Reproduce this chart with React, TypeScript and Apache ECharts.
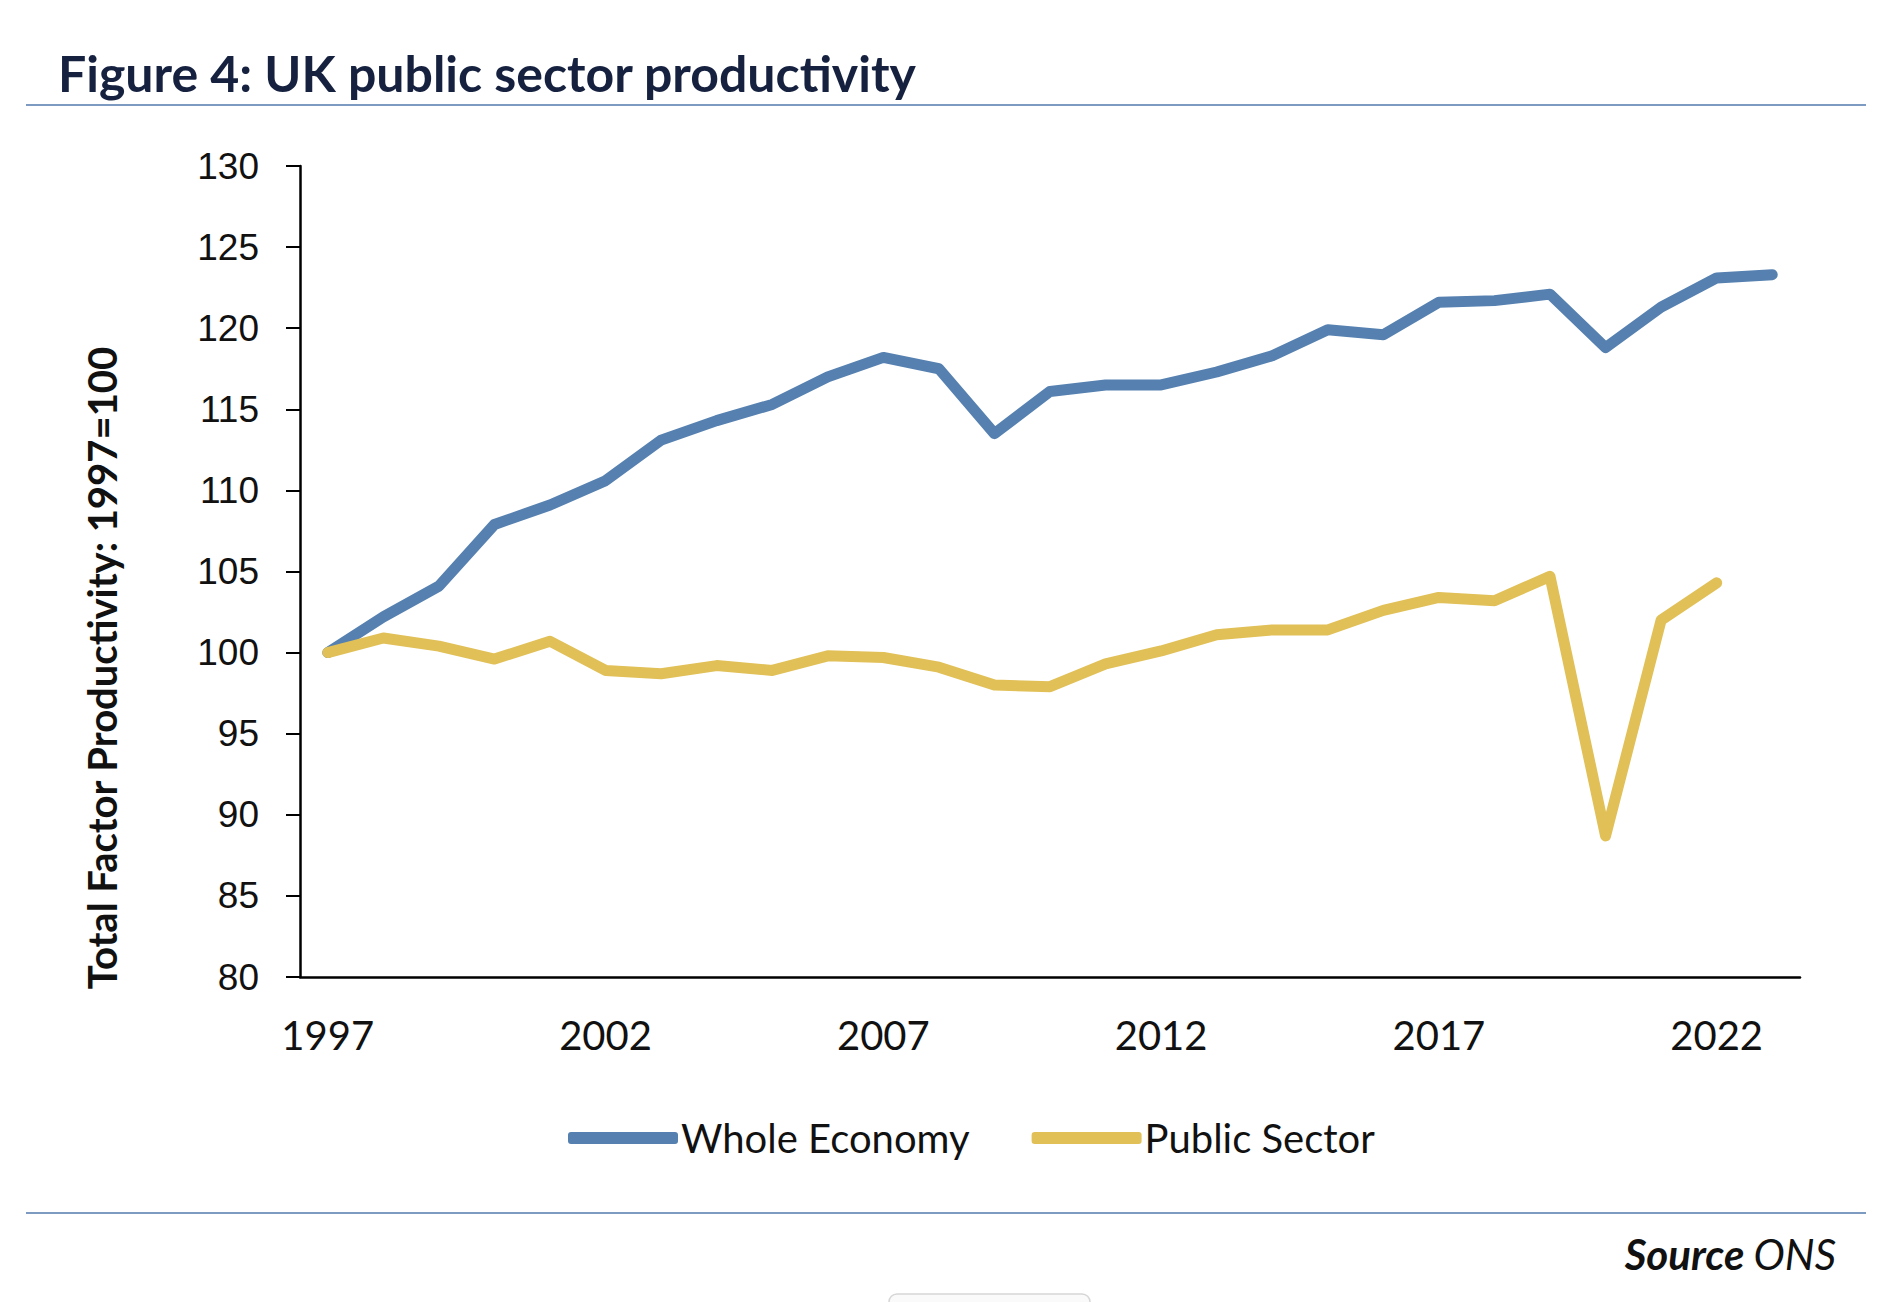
import { useEffect, useRef } from 'react';
import * as echarts from 'echarts';

const years = [
  '1997', '1998', '1999', '2000', '2001', '2002', '2003', '2004', '2005',
  '2006', '2007', '2008', '2009', '2010', '2011', '2012', '2013', '2014',
  '2015', '2016', '2017', '2018', '2019', '2020', '2021', '2022', '2023',
];

const wholeEconomy = [
  100, 102.2, 104.1, 107.9, 109.1, 110.6, 113.1, 114.3, 115.3,
  117.0, 118.2, 117.5, 113.5, 116.1, 116.5, 116.5, 117.3, 118.3,
  119.9, 119.6, 121.6, 121.7, 122.1, 118.8, 121.3, 123.1, 123.3,
];

const publicSector = [
  100, 100.9, 100.4, 99.6, 100.7, 98.9, 98.7, 99.2, 98.9,
  99.8, 99.7, 99.1, 98.0, 97.9, 99.3, 100.1, 101.1, 101.4,
  101.4, 102.6, 103.4, 103.2, 104.7, 88.7, 102.0, 104.3, null,
];

const seriesNames = ['Whole Economy', 'Public Sector'];

// Lato is the closest installed face to Calibri
const CAL = 'Lato, "Liberation Sans", sans-serif';

export default function App() {
  const chartRef = useRef<HTMLDivElement>(null);

  useEffect(() => {
    if (!chartRef.current) return;
    const chart = echarts.init(chartRef.current, undefined, { renderer: 'svg' });

    const option: echarts.EChartsOption = {
      animation: false,
      backgroundColor: '#ffffff',
      grid: { left: 300, top: 166, right: 88, bottom: 325 },
      legend: {
        data: seriesNames,
        left: 563,
        top: 1113,
        icon: 'roundRect',
        itemWidth: 110,
        itemHeight: 12,
        itemGap: 62,
        textStyle: { fontFamily: CAL, fontSize: 40, color: '#111111', padding: [0, 0, 0, -2] },
      },
      xAxis: {
        type: 'category',
        data: years,
        boundaryGap: true,
        axisLine: { lineStyle: { color: '#000000', width: 2.5 } },
        axisTick: { show: false },
        axisLabel: {
          interval: 4,
          margin: 38,
          fontFamily: CAL,
          fontSize: 40,
          color: '#111111',
        },
        splitLine: { show: false },
      },
      yAxis: {
        type: 'value',
        min: 80,
        max: 130,
        interval: 5,
        axisLine: { show: true, lineStyle: { color: '#000000', width: 2.5 } },
        axisTick: { show: true, length: 14, lineStyle: { color: '#000000', width: 2 } },
        axisLabel: {
          margin: 41,
          fontFamily: '"Liberation Sans", Arial, sans-serif',
          fontSize: 37,
          color: '#111111',
        },
        splitLine: { show: false },
      },
      graphic: [
        {
          type: 'text',
          left: 58,
          top: 48,
          style: {
            text: 'Figure 4: UK public sector productivity',
            font: `bold 50px ${CAL}`,
            fill: '#15213f',
          },
        },
        {
          type: 'line',
          shape: { x1: 26, y1: 105, x2: 1866, y2: 105 },
          style: { stroke: '#7d9bc1', lineWidth: 2 },
        },
        {
          type: 'text',
          x: 102,
          y: 668,
          rotation: Math.PI / 2,
          style: {
            text: 'Total Factor Productivity: 1997=100',
            font: `bold 40px ${CAL}`,
            fill: '#111111',
            align: 'center',
            verticalAlign: 'middle',
          },
        },
        {
          type: 'line',
          shape: { x1: 26, y1: 1213, x2: 1866, y2: 1213 },
          style: { stroke: '#7d9bc1', lineWidth: 2 },
        },
        {
          type: 'text',
          x: 1836,
          y: 1254,
          style: {
            text: '{b|Source }{i|ONS}',
            align: 'right',
            verticalAlign: 'middle',
            rich: {
              b: { font: `italic bold 42px ${CAL}`, fill: '#111111' },
              i: { font: `italic 42px ${CAL}`, fill: '#111111' },
            },
          },
        },
        {
          type: 'rect',
          shape: { x: 889, y: 1294, width: 201, height: 20, r: 8 },
          style: { fill: '#fafafa', stroke: '#d6d6d6', lineWidth: 1.5 },
        },
      ],
      series: [
        {
          name: seriesNames[0],
          type: 'line',
          data: wholeEconomy,
          showSymbol: false,
          symbol: 'none',
          itemStyle: { color: '#5580b0' },
          lineStyle: { color: '#5580b0', width: 11, cap: 'round', join: 'round' },
        },
        {
          name: seriesNames[1],
          type: 'line',
          data: publicSector,
          showSymbol: false,
          symbol: 'none',
          itemStyle: { color: '#e1c058' },
          lineStyle: { color: '#e1c058', width: 11, cap: 'round', join: 'round' },
        },
      ],
    };

    chart.setOption(option);

    return () => {
      chart.dispose();
    };
  }, []);

  return (
    <div
      ref={chartRef}
      style={{ position: 'fixed', left: 0, top: 0, width: '1888px', height: '1302px' }}
    />
  );
}
